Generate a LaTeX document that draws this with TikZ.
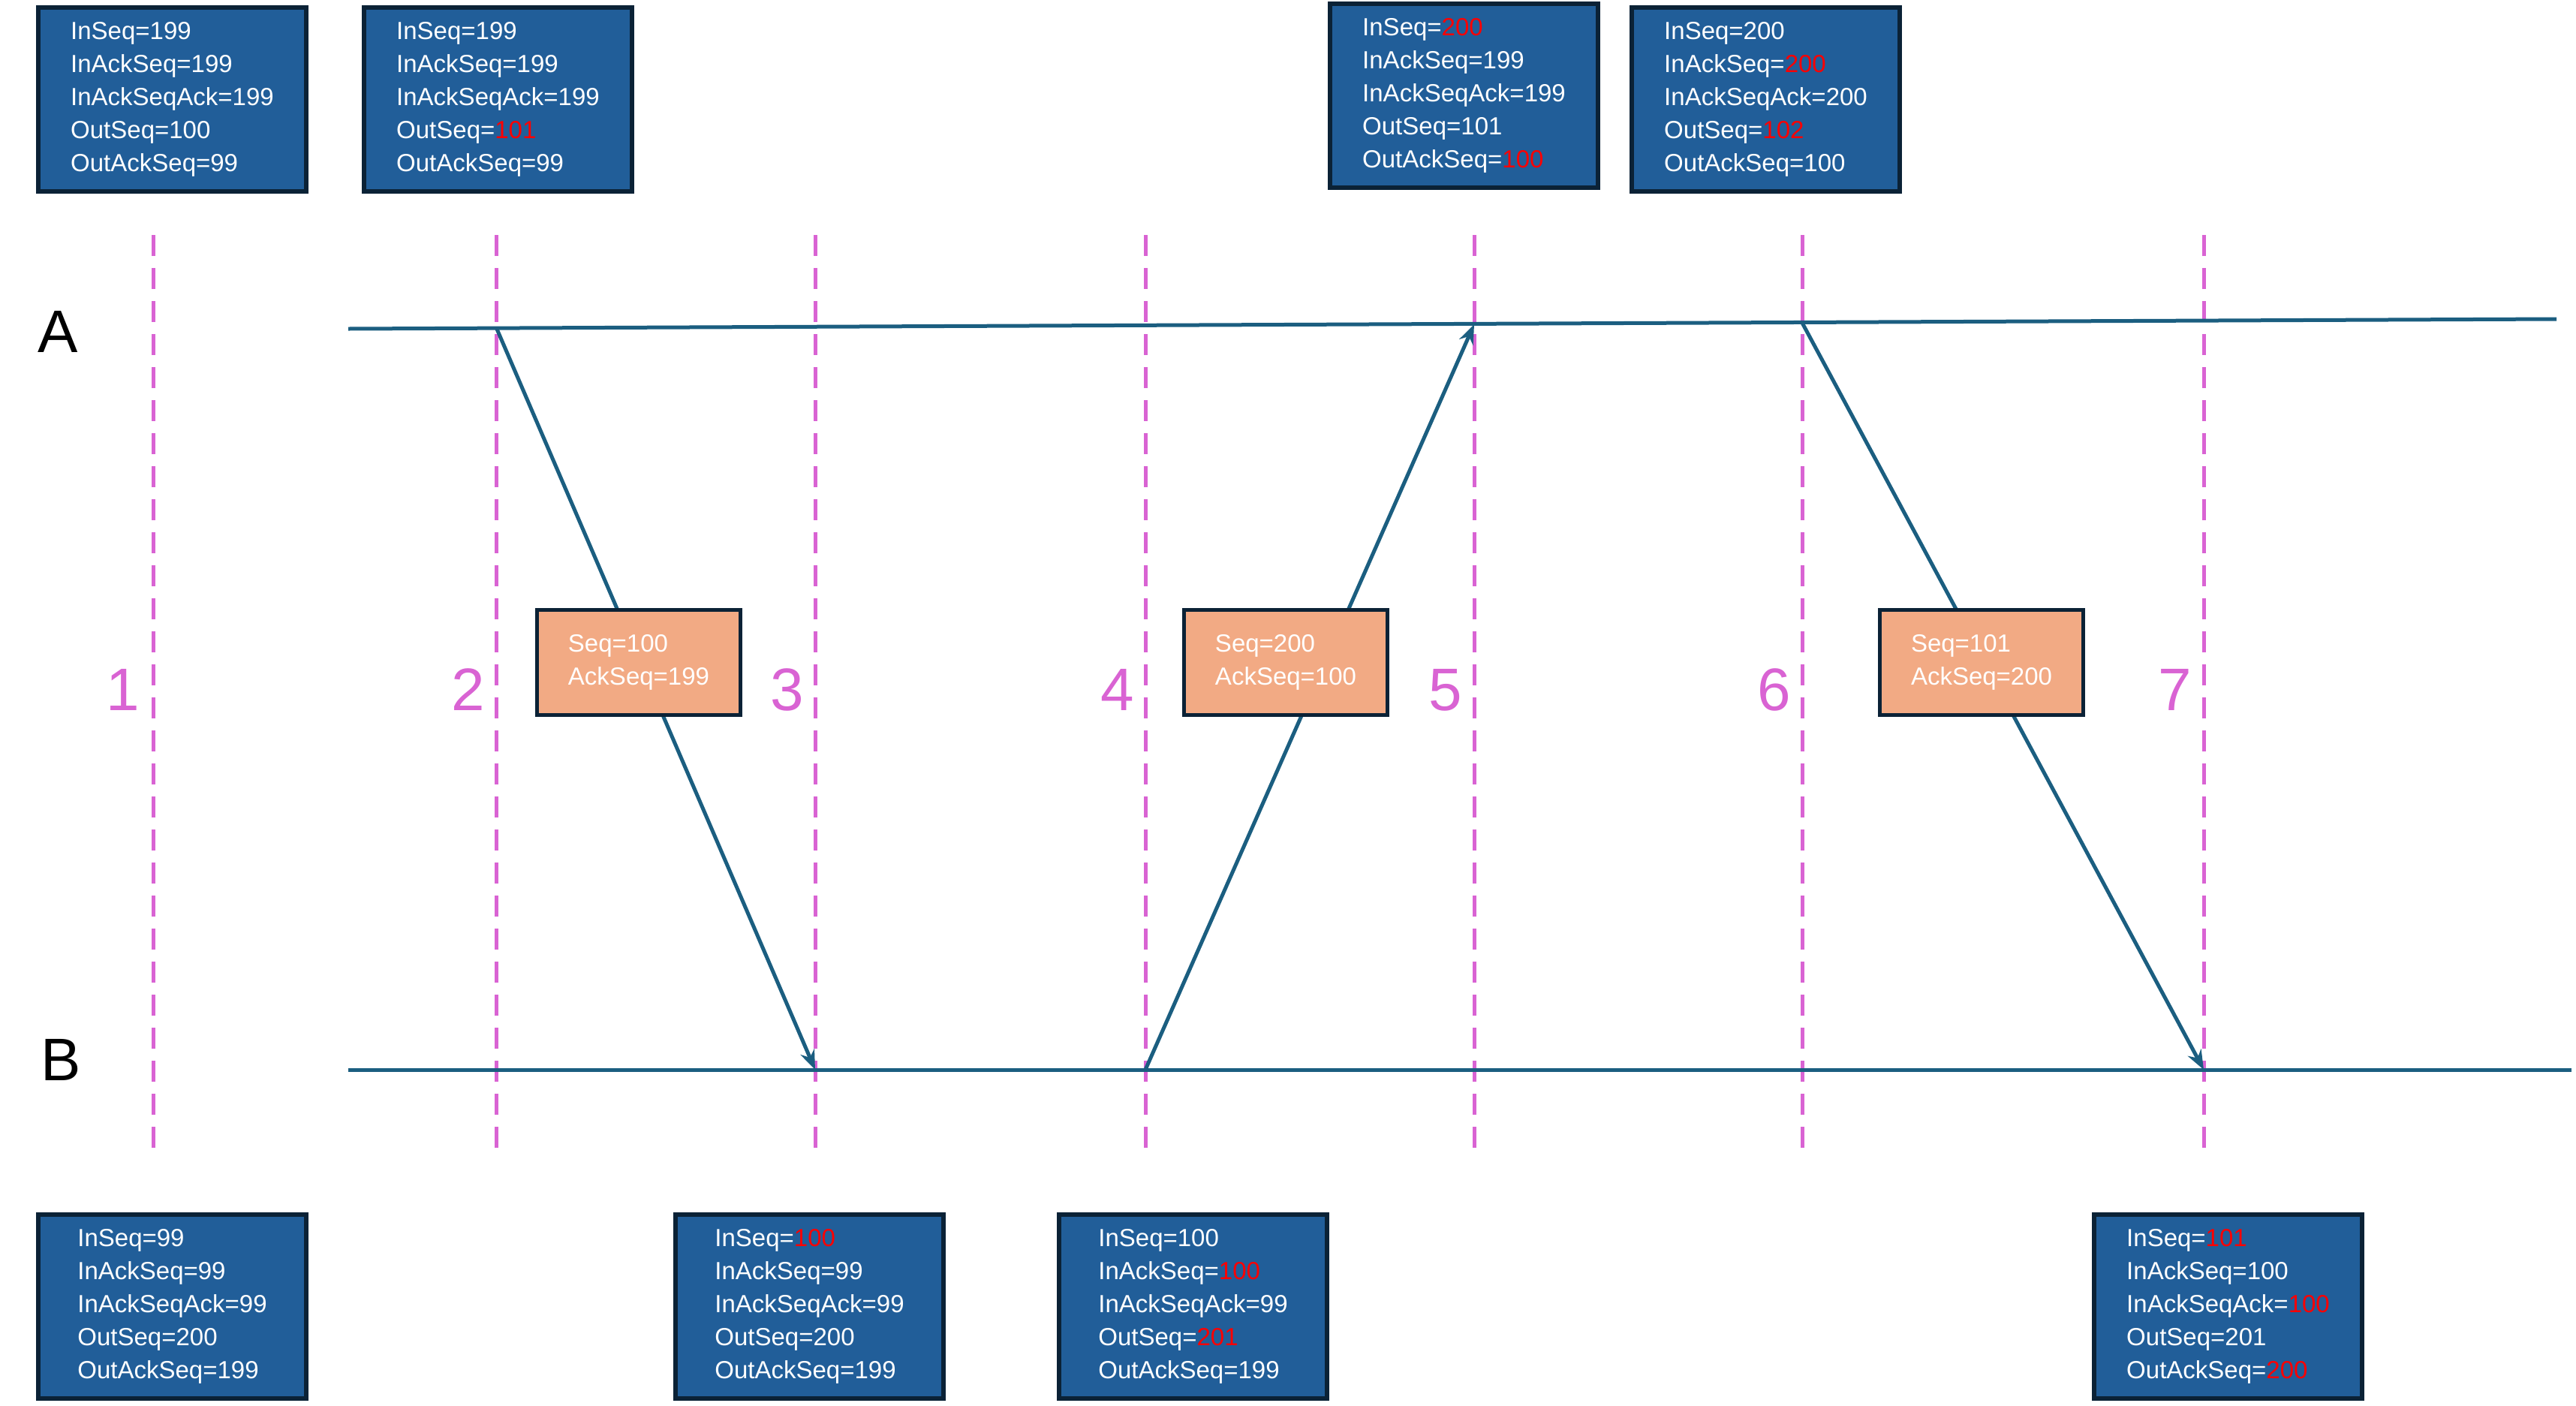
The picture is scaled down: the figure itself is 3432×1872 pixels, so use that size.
\documentclass[tikz,border=0pt]{standalone}
\usepackage{fontspec}
\setmainfont{Liberation Sans}
\usetikzlibrary{arrows.meta}
\definecolor{boxblue}{HTML}{215E99}
\definecolor{boxedge}{HTML}{0B2236}
\definecolor{orng}{HTML}{F2AA84}
\definecolor{lineblue}{HTML}{1B5E80}
\definecolor{mag}{HTML}{D963D3}
\newcommand{\rv}[1]{\textcolor{red}{#1}}
\begin{document}
\begin{tikzpicture}[x=1pt,y=-1pt,
  state/.style={draw=boxedge,line width=6pt,fill=boxblue,text=white,anchor=north west,
    minimum width=357pt,minimum height=245pt,align=left,inner xsep=33pt,
    font=\fontsize{33}{44}\selectfont},
  msg/.style={draw=boxedge,line width=5pt,fill=orng,text=white,align=left,
    minimum width=271pt,minimum height=140pt,inner xsep=33pt,font=\fontsize{33}{44}\selectfont},
  vdash/.style={mag,line width=5pt,dash pattern=on 28pt off 16pt},
  tl/.style={lineblue,line width=5pt},
  arr/.style={tl,-{Stealth[length=26pt,width=20pt]}},
  num/.style={mag,font=\fontsize{80}{80}\selectfont},
  lab/.style={font=\fontsize{80}{80}\selectfont}]
\useasboundingbox (0,0) rectangle (3432,1872);
% dashed lines
\foreach \i/\x in {1/204,2/661,3/1086,4/1526,5/1964,6/2401,7/2936}{
  \coordinate (dt\i) at (\x,313); \coordinate (db\i) at (\x,1543);
  \draw[vdash] (dt\i) -- (db\i);}
% timelines
\coordinate (a0) at (464,438); \coordinate (a1) at (3406,425);
\coordinate (b0) at (464,1425); \coordinate (b1) at (3426,1425);
\draw[tl] (a0) -- (a1);
\draw[tl] (b0) -- (b1);
\node[lab] (LA) at (77,442) {A};
\node[lab] (LB) at (81,1412) {B};
% numbers
\foreach \i/\x in {1/164,2/624,3/1049,4/1489,5/1926,6/2364,7/2898}
  \node[num] (n\i) at (\x,919) {\i};
% event points
\coordinate (pA2) at (661,436); \coordinate (pB3) at (1086,1425);
\coordinate (pB4) at (1526,1425); \coordinate (pA5) at (1964,432);
\coordinate (pA6) at (2401,430); \coordinate (pB7) at (2936,1425);
\draw[arr] (pA2) -- (pB3);
\draw[arr] (pB4) -- (pA5);
\draw[arr] (pA6) -- (pB7);
% messages
\node[msg] (m1) at (851,882) {Seq=100\\AckSeq=199};
\node[msg] (m2) at (1713,882) {Seq=200\\AckSeq=100};
\node[msg] (m3) at (2640,882) {Seq=101\\AckSeq=200};
% state boxes
\node[state] (s1) at (48,7) {InSeq=199\\InAckSeq=199\\InAckSeqAck=199\\OutSeq=100\\OutAckSeq=99};
\node[state] (s2) at (482,7) {InSeq=199\\InAckSeq=199\\InAckSeqAck=199\\OutSeq=\rv{101}\\OutAckSeq=99};
\node[state] (s5) at (1769,2) {InSeq=\rv{200}\\InAckSeq=199\\InAckSeqAck=199\\OutSeq=101\\OutAckSeq=\rv{100}};
\node[state] (s6) at (2171,7) {InSeq=200\\InAckSeq=\rv{200}\\InAckSeqAck=200\\OutSeq=\rv{102}\\OutAckSeq=100};
\node[state] (t1) at (48,1615) {InSeq=99\\InAckSeq=99\\InAckSeqAck=99\\OutSeq=200\\OutAckSeq=199};
\node[state] (t3) at (897,1615) {InSeq=\rv{100}\\InAckSeq=99\\InAckSeqAck=99\\OutSeq=200\\OutAckSeq=199};
\node[state] (t4) at (1408,1615) {InSeq=100\\InAckSeq=\rv{100}\\InAckSeqAck=99\\OutSeq=\rv{201}\\OutAckSeq=199};
\node[state] (t7) at (2787,1615) {InSeq=\rv{101}\\InAckSeq=100\\InAckSeqAck=\rv{100}\\OutSeq=201\\OutAckSeq=\rv{200}};
\end{tikzpicture}
\end{document}
